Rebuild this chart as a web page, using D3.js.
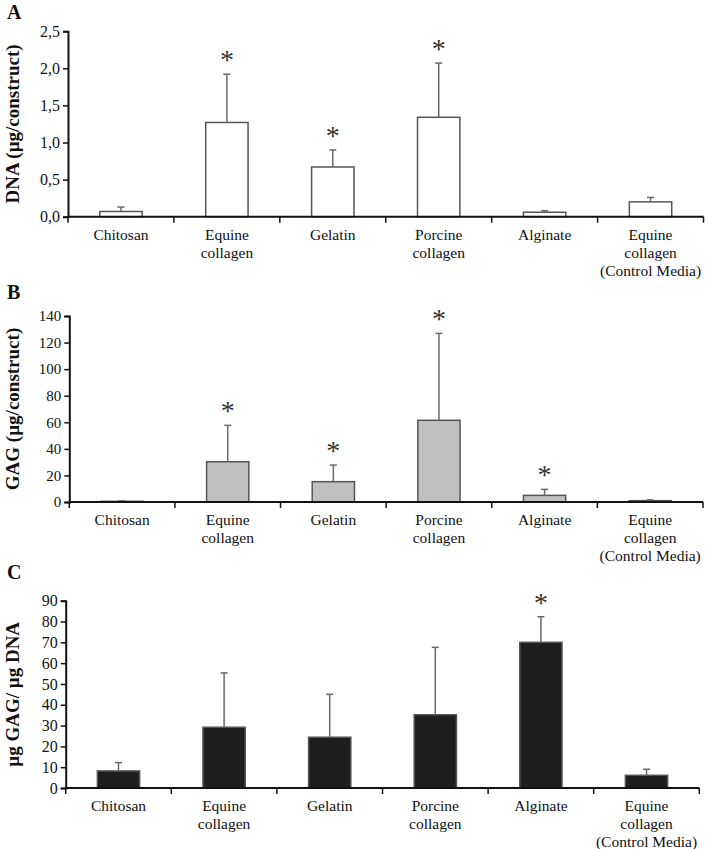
<!DOCTYPE html>
<html>
<head>
<meta charset="utf-8">
<script src="https://cdn.jsdelivr.net/npm/d3@7"></script>
<style>
  body { margin: 0; background: #fff; }
  svg { display: block; }
  text { font-family: "Liberation Serif", "Times New Roman", serif; fill: #111; }
</style>
</head>
<body>
<div id="chart"></div>
<script>
const categories = [
    ["Chitosan"],
    ["Equine", "collagen"],
    ["Gelatin"],
    ["Porcine", "collagen"],
    ["Alginate"],
    ["Equine", "collagen", "(Control Media)"]
];

// A - DNA per construct
const dnaMean = [0.07, 1.27, 0.67, 1.34, 0.06, 0.20];
const dnaSd   = [0.06, 0.65, 0.23, 0.73, 0.02, 0.06];
const dnaSig  = [false, true, true, true, false, false];
const dnaTicks = [0, 0.5, 1.0, 1.5, 2.0, 2.5];

// B - GAG per construct
const gagMean = [0.5, 30.3, 15.3, 61.5, 5.0, 1.0];
const gagSd   = [0.3, 27.4, 12.5, 65.4, 4.5, 0.6];
const gagSig  = [false, true, true, true, true, false];
const gagTicks = [0, 20, 40, 60, 80, 100, 120, 140];

// C - GAG / DNA
const ratioMean = [8.2, 29.2, 24.4, 35.2, 70.0, 6.1];
const ratioSd   = [4.0, 26.1, 20.6, 32.4, 12.3, 2.9];
const ratioSig  = [false, false, false, false, true, false];
const ratioTicks = [0, 10, 20, 30, 40, 50, 60, 70, 80, 90];

const W = 708, H = 849;

const svg = d3.select("#chart").append("svg")
    .attr("width", W)
    .attr("height", H);

const drawPanel = (p) => {
    const x = d3.scaleBand()
        .domain(d3.range(categories.length))
        .range([p.left, p.right])
        .paddingInner(0.6)
        .paddingOuter(0.3);

    const y = d3.scaleLinear()
        .domain([0, p.max])
        .range([p.bottom, p.top]);

    const cx = i => x(i) + x.bandwidth() / 2;

    const g = svg.append("g");

    // panel letter
    g.append("text")
        .attr("x", 7)
        .attr("y", p.letterY)
        .attr("font-size", 20)
        .attr("font-weight", "bold")
        .text(p.letter);

    // y title
    g.append("text")
        .attr("transform", `translate(${p.titleX},${(p.top + p.bottom) / 2}) rotate(-90)`)
        .attr("text-anchor", "middle")
        .attr("font-size", 19)
        .attr("font-weight", "bold")
        .text(p.title);

    const rows = p.mean.map((m, i) => ({i: i, mean: m, sd: p.sd[i], sig: p.sig[i]}));

    // bars
    g.selectAll(".bar")
        .data(rows)
        .enter().append("rect")
        .attr("x", d => x(d.i))
        .attr("y", d => y(d.mean))
        .attr("width", x.bandwidth())
        .attr("height", d => p.bottom - y(d.mean))
        .attr("fill", p.fill)
        .attr("stroke", "#555")
        .attr("stroke-width", 1.5);

    // error whiskers (upper only)
    const err = g.selectAll(".err")
        .data(rows)
        .enter().append("g");
    err.append("line")
        .attr("x1", d => cx(d.i))
        .attr("x2", d => cx(d.i))
        .attr("y1", d => y(d.mean))
        .attr("y2", d => y(d.mean + d.sd))
        .attr("stroke", "#6a6a6a")
        .attr("stroke-width", 1.5);
    err.append("line")
        .attr("x1", d => cx(d.i) - 3.5)
        .attr("x2", d => cx(d.i) + 3.5)
        .attr("y1", d => y(d.mean + d.sd))
        .attr("y2", d => y(d.mean + d.sd))
        .attr("stroke", "#6a6a6a")
        .attr("stroke-width", 1.5);

    // significance stars
    g.selectAll(".star")
        .data(rows.filter(d => d.sig))
        .enter().append("text")
        .attr("x", d => cx(d.i))
        .attr("y", d => y(d.mean + d.sd) - 5)
        .attr("text-anchor", "middle")
        .attr("font-size", 28)
        .style("fill", "#333")
        .text("*");

    // y axis
    const yAxis = d3.axisLeft(y)
        .tickValues(p.ticks)
        .tickSize(5)
        .tickFormat(p.fmt);
    const ya = g.append("g")
        .attr("transform", `translate(${p.left},0)`)
        .call(yAxis);
    ya.select(".domain").attr("stroke", "#111").attr("stroke-width", 2);
    ya.selectAll(".tick line").attr("stroke", "#111").attr("stroke-width", 1.5);
    ya.selectAll(".tick text")
        .attr("font-size", p.tickSize)
        .attr("x", -8);

    // x axis baseline and boundary ticks
    g.append("line")
        .attr("x1", p.left).attr("x2", p.right)
        .attr("y1", p.bottom).attr("y2", p.bottom)
        .attr("stroke", "#111").attr("stroke-width", 2);
    const bounds = d3.range(categories.length + 1).map(i => p.left + i * x.step());
    g.selectAll(".xtick")
        .data(bounds)
        .enter().append("line")
        .attr("x1", d => d).attr("x2", d => d)
        .attr("y1", p.bottom).attr("y2", p.bottom + 6)
        .attr("stroke", "#111").attr("stroke-width", 1.5);

    // category labels
    const lab = g.selectAll(".xlab")
        .data(categories)
        .enter().append("text")
        .attr("text-anchor", "middle")
        .attr("font-size", 15.5)
        .attr("transform", (d, i) => `translate(${cx(i)},${p.bottom + 23})`);
    lab.selectAll("tspan")
        .data(d => d)
        .enter().append("tspan")
        .attr("x", 0)
        .attr("y", (d, j) => j * 18)
        .text(d => d);
};

const commaFmt = d => d3.format(".1f")(d).replace(".", ",");

drawPanel({
    letter: "A", letterY: 19,
    title: "DNA (µg/construct)", titleX: 19,
    left: 68, right: 703.5, top: 31.2, bottom: 216.7, max: 2.5,
    mean: dnaMean, sd: dnaSd, sig: dnaSig, ticks: dnaTicks,
    fmt: commaFmt, tickSize: 16, fill: "#fff"
});

drawPanel({
    letter: "B", letterY: 299,
    title: "GAG (µg/construct)", titleX: 19,
    left: 69.3, right: 703, top: 316, bottom: 502, max: 140,
    mean: gagMean, sd: gagSd, sig: gagSig, ticks: gagTicks,
    fmt: d3.format("d"), tickSize: 15, fill: "#c0c0c0"
});

drawPanel({
    letter: "C", letterY: 579,
    title: "µg GAG/ µg DNA", titleX: 19,
    left: 65.7, right: 699.3, top: 600.7, bottom: 788, max: 90,
    mean: ratioMean, sd: ratioSd, sig: ratioSig, ticks: ratioTicks,
    fmt: d3.format("d"), tickSize: 16, fill: "#1e1e1e"
});
</script>
</body>
</html>
